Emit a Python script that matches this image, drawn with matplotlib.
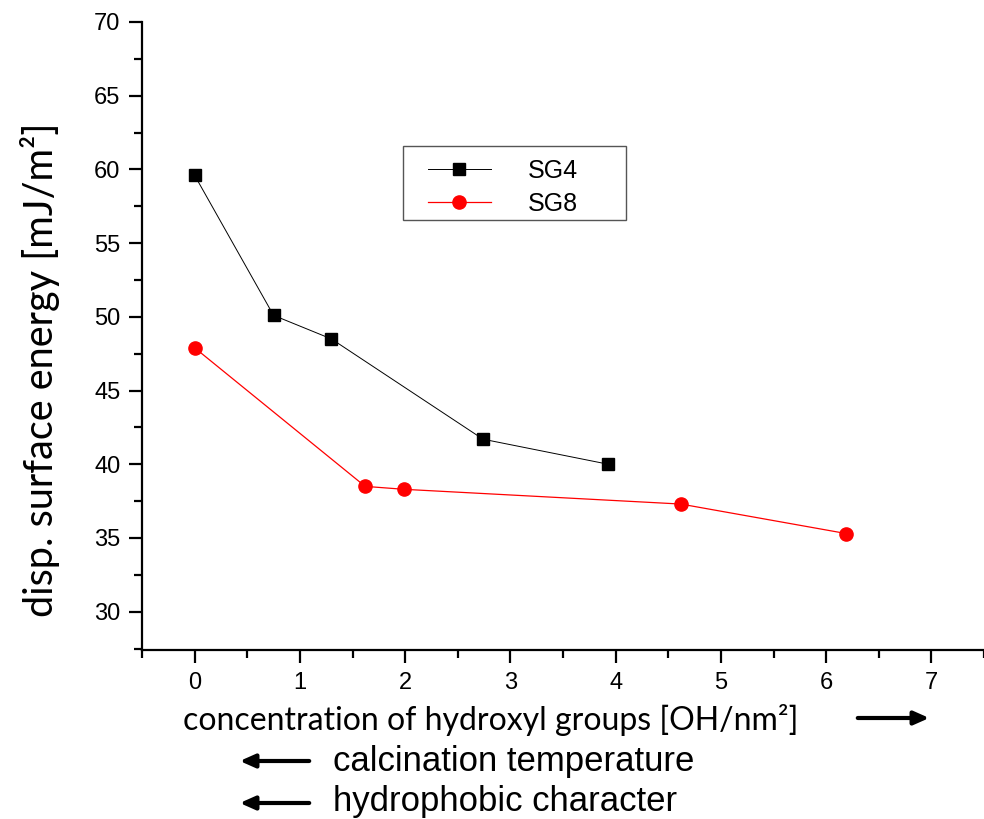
import matplotlib
matplotlib.use("Agg")
import matplotlib.pyplot as plt
from matplotlib.patches import Rectangle
from matplotlib.ticker import MultipleLocator

# SG4 series
sg4_x = [0.0, 0.75, 1.30, 2.74, 3.93]
sg4_y = [59.6, 50.1, 48.5, 41.7, 40.0]

# SG8 series
sg8_x = [0.0, 1.62, 1.99, 4.62, 6.19]
sg8_y = [47.9, 38.5, 38.3, 37.3, 35.3]

plt.rcParams["font.family"] = ["Liberation Sans", "DejaVu Sans"]

W, H = 984, 819
fig = plt.figure(figsize=(W/100, H/100), dpi=100)
ax = fig.add_axes([142/W, 1 - 650/H, 1 - 142/W, (650 - 22)/H])

ax.plot(sg4_x, sg4_y, "-s", color="black", lw=0.7, ms=8.5, label="SG4")
ax.plot(sg8_x, sg8_y, "-o", color="red", mfc="red", mec="red", lw=0.9, ms=9.5, label="SG8")

ax.set_xlim(-0.5, 7.5)
ax.set_ylim(27.4, 70)
ax.xaxis.set_major_locator(MultipleLocator(1))
ax.xaxis.set_minor_locator(MultipleLocator(0.5))
ax.yaxis.set_major_locator(MultipleLocator(5))
ax.yaxis.set_minor_locator(MultipleLocator(2.5))
ax.set_yticks([30, 35, 40, 45, 50, 55, 60, 65, 70])

ax.spines["top"].set_visible(False)
ax.spines["right"].set_visible(False)
ax.spines["left"].set_linewidth(1.6)
ax.spines["bottom"].set_linewidth(1.6)
ax.tick_params(which="major", direction="out", length=9.5, width=1.6, labelsize=17, pad=6)
ax.tick_params(which="minor", direction="out", length=6, width=1.6)

# legend without its own frame, the box is drawn separately
leg = ax.legend(loc="upper left", bbox_to_anchor=(428/W, 1 - 159/H),
                bbox_transform=fig.transFigure,
                fontsize=18, handlelength=2.5, handletextpad=1.5, numpoints=1,
                frameon=False, borderpad=0, labelspacing=0.36, borderaxespad=0)
fig.patches.append(Rectangle((403/W, 1 - 220/H), (626 - 403)/W, (220 - 146)/H,
                             transform=fig.transFigure, fill=False,
                             edgecolor="#555555", lw=1.0))

fig.text(183/W, 1 - 720/H, "concentration of hydroxyl groups [OH/nm²]",
         fontsize=23, family=["Lato", "DejaVu Sans"], va="center", ha="left")
fig.text(40/W, 1 - 370/H, "disp. surface energy [mJ/m²]",
         fontsize=28.5, family=["Lato", "DejaVu Sans"], va="center", ha="center",
         rotation=90)
fig.text(333/W, 1 - 762/H, "calcination temperature", fontsize=25,
         va="center", ha="left")
fig.text(333/W, 1 - 802/H, "hydrophobic character", fontsize=25,
         va="center", ha="left")

arrow_props = dict(arrowstyle="-|>,head_length=0.9,head_width=0.4", color="black", lw=3)
ax.annotate("", xy=(932/W, 1 - 718/H), xytext=(855/W, 1 - 718/H),
            xycoords="figure fraction", arrowprops=arrow_props)
ax.annotate("", xy=(237/W, 1 - 761/H), xytext=(312/W, 1 - 761/H),
            xycoords="figure fraction", arrowprops=arrow_props)
ax.annotate("", xy=(237/W, 1 - 803/H), xytext=(312/W, 1 - 803/H),
            xycoords="figure fraction", arrowprops=arrow_props)

fig.savefig("out.png", dpi=100)
